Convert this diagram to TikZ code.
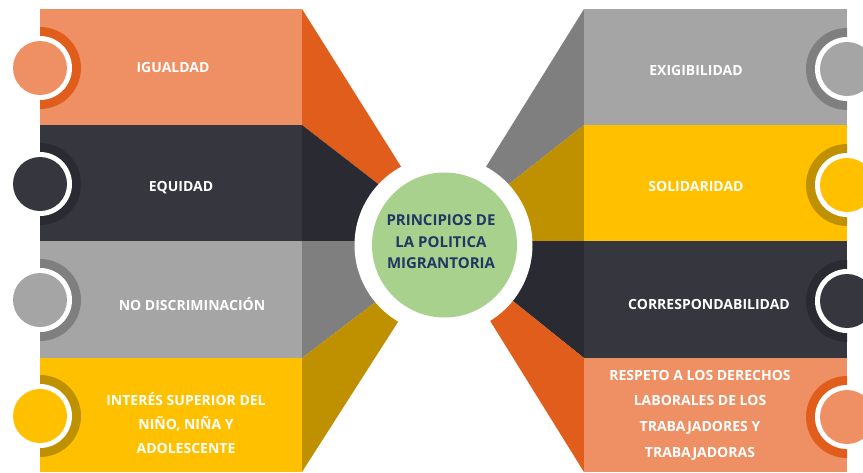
\documentclass[tikz,border=0pt]{standalone}
\usepackage{fontspec}
\newfontfamily\osfont{Open Sans}
\definecolor{orL}{HTML}{EE9063}
\definecolor{orD}{HTML}{E05D1C}
\definecolor{chL}{HTML}{36363F}
\definecolor{chD}{HTML}{2A2A32}
\definecolor{grL}{HTML}{A5A5A5}
\definecolor{grD}{HTML}{7F7F7F}
\definecolor{yeL}{HTML}{FFC000}
\definecolor{yeD}{HTML}{BF9000}
\definecolor{gnC}{HTML}{A9D18E}
\definecolor{nvT}{HTML}{1F3864}
\tikzset{
  lbl/.style={text=white, font=\osfont\bfseries\fontsize{14}{24}\selectfont, align=center, inner sep=0pt},
  lblr/.style={lbl, font=\osfont\bfseries\fontsize{14}{25.6}\selectfont},
  ctr/.style={text=nvT, font=\osfont\bfseries\fontsize{15}{21.5}\selectfont, align=center, inner sep=0pt},
}
\begin{document}
\begin{tikzpicture}[x=1pt,y=-1pt]
\useasboundingbox (0,0) rectangle (863,472);
% left fan sides
\fill[orD] (302,9) -- (302,125) -- (444,235) -- cycle;
\fill[chD] (302,125) -- (302,241) -- (444,241) -- (444,235) -- cycle;
\fill[grD] (302,241) -- (302,358) -- (444,250) -- (444,241) -- cycle;
\fill[yeD] (302,358) -- (302,472) -- (444,250) -- cycle;
% right fan sides
\fill[grD] (584,9) -- (584,125) -- (443,236) -- cycle;
\fill[yeD] (584,125) -- (584,241) -- (443,241) -- (443,236) -- cycle;
\fill[chD] (584,241) -- (584,358) -- (443,245) -- (443,241) -- cycle;
\fill[orD] (584,358) -- (584,472) -- (443,245) -- cycle;
% left boxes
\fill[orL] (40,9) rectangle (302,125);
\fill[chL] (40,125) rectangle (302,241);
\fill[grL] (40,241) rectangle (302,358);
\fill[yeL] (40,358) rectangle (302,472);
% right boxes
\fill[grL] (584,9) rectangle (847,125);
\fill[yeL] (584,125) rectangle (847,241);
\fill[chL] (584,241) rectangle (847,358);
\fill[orL] (584,358) rectangle (847,472);
% left tabs
\begin{scope}
  \clip (40,9) rectangle (302,472);
  \fill[orD] (40,68) circle[radius=41];
  \fill[chD] (40,184) circle[radius=41];
  \fill[grD] (40,300) circle[radius=41];
  \fill[yeD] (40,416) circle[radius=41];
\end{scope}
\foreach \yy/\cc in {68/orL,184/chL,300/grL,416/yeL}{
  \fill[white] (40,\yy) circle[radius=32];
  \fill[\cc] (40,\yy) circle[radius=27];
}
% right tabs
\begin{scope}
  \clip (584,9) rectangle (847,472);
  \fill[grD] (847,69) circle[radius=41];
  \fill[yeD] (847,185) circle[radius=41];
  \fill[chD] (847,301) circle[radius=41];
  \fill[orD] (847,417) circle[radius=41];
\end{scope}
\foreach \yy/\cc in {69/grL,185/yeL,301/chL,417/orL}{
  \fill[white] (847,\yy) circle[radius=32];
  \fill[\cc] (847,\yy) circle[radius=27];
}
% center
\fill[white] (443.5,245) circle[radius=89];
\node[circle, fill=gnC, minimum size=145pt, inner sep=0pt] (c) at (444.5,245) {};
\node[ctr] (ct) at (441,242) {PRINCIPIOS DE\\LA POLITICA\\MIGRANTORIA};
% labels left
\node[lbl] (l1) at (173,67) {IGUALDAD};
\node[lbl] (l2) at (181,188) {EQUIDAD};
\node[lbl] (l3) at (192,304) {NO DISCRIMINACIÓN};
\node[lbl] (l4) at (186,423) {INTERÉS SUPERIOR DEL\\NIÑO, NIÑA Y\\ADOLESCENTE};
% labels right
\node[lbl] (r1) at (696,70) {EXIGIBILIDAD};
\node[lbl] (r2) at (696,186) {SOLIDARIDAD};
\node[lbl] (r3) at (709,304) {CORRESPONDABILIDAD};
\node[lblr] (r4) at (700,415) {RESPETO A LOS DERECHOS\\LABORALES DE LOS\\TRABAJADORES Y\\TRABAJADORAS};
\end{tikzpicture}
\end{document}
